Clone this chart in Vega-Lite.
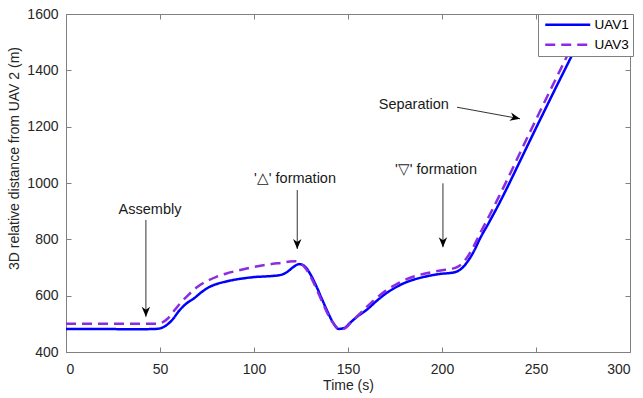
{
  "$schema": "https://vega.github.io/schema/vega-lite/v6.json",
  "width": 564,
  "height": 338,
  "autosize": "none",
  "padding": {"left": 66, "top": 14, "right": 13, "bottom": 46},
  "background": "white",
  "config": {
    "font": "Liberation Sans",
    "view": {"stroke": null},
    "axis": {
      "domainColor": "#808080",
      "domainWidth": 1,
      "tickColor": "#808080",
      "tickSize": -5,
      "labelColor": "#262626",
      "labelFontSize": 14,
      "titleFontSize": 14,
      "titleFontWeight": "normal",
      "titleColor": "#262626",
      "grid": false
    }
  },
  "datasets": {
    "lines": [
      {"series": "UAV1", "t": 0, "v": 482},
      {"series": "UAV1", "t": 10, "v": 482},
      {"series": "UAV1", "t": 20, "v": 482},
      {"series": "UAV1", "t": 30, "v": 481},
      {"series": "UAV1", "t": 40, "v": 481},
      {"series": "UAV1", "t": 48, "v": 482},
      {"series": "UAV1", "t": 51, "v": 486},
      {"series": "UAV1", "t": 54, "v": 498},
      {"series": "UAV1", "t": 57, "v": 518},
      {"series": "UAV1", "t": 60, "v": 545},
      {"series": "UAV1", "t": 64, "v": 572},
      {"series": "UAV1", "t": 68, "v": 590},
      {"series": "UAV1", "t": 72, "v": 612},
      {"series": "UAV1", "t": 76, "v": 630},
      {"series": "UAV1", "t": 80, "v": 641},
      {"series": "UAV1", "t": 85, "v": 650},
      {"series": "UAV1", "t": 90, "v": 657},
      {"series": "UAV1", "t": 95, "v": 662},
      {"series": "UAV1", "t": 100, "v": 666},
      {"series": "UAV1", "t": 105, "v": 668},
      {"series": "UAV1", "t": 110, "v": 670},
      {"series": "UAV1", "t": 115, "v": 675},
      {"series": "UAV1", "t": 118, "v": 686},
      {"series": "UAV1", "t": 121, "v": 702},
      {"series": "UAV1", "t": 124, "v": 712},
      {"series": "UAV1", "t": 127, "v": 704},
      {"series": "UAV1", "t": 130, "v": 676},
      {"series": "UAV1", "t": 133, "v": 636},
      {"series": "UAV1", "t": 136, "v": 590},
      {"series": "UAV1", "t": 139, "v": 545},
      {"series": "UAV1", "t": 142, "v": 505},
      {"series": "UAV1", "t": 145, "v": 482},
      {"series": "UAV1", "t": 148, "v": 485},
      {"series": "UAV1", "t": 151, "v": 503},
      {"series": "UAV1", "t": 155, "v": 526},
      {"series": "UAV1", "t": 160, "v": 550},
      {"series": "UAV1", "t": 165, "v": 580},
      {"series": "UAV1", "t": 170, "v": 607},
      {"series": "UAV1", "t": 175, "v": 628},
      {"series": "UAV1", "t": 180, "v": 645},
      {"series": "UAV1", "t": 185, "v": 657},
      {"series": "UAV1", "t": 190, "v": 666},
      {"series": "UAV1", "t": 195, "v": 673},
      {"series": "UAV1", "t": 200, "v": 678},
      {"series": "UAV1", "t": 205, "v": 681},
      {"series": "UAV1", "t": 208, "v": 686},
      {"series": "UAV1", "t": 211, "v": 700},
      {"series": "UAV1", "t": 214, "v": 725},
      {"series": "UAV1", "t": 217, "v": 758},
      {"series": "UAV1", "t": 220, "v": 800},
      {"series": "UAV1", "t": 225, "v": 860},
      {"series": "UAV1", "t": 230, "v": 922},
      {"series": "UAV1", "t": 235, "v": 988},
      {"series": "UAV1", "t": 240, "v": 1057},
      {"series": "UAV1", "t": 245, "v": 1126},
      {"series": "UAV1", "t": 250, "v": 1195},
      {"series": "UAV1", "t": 255, "v": 1263},
      {"series": "UAV1", "t": 260, "v": 1331},
      {"series": "UAV1", "t": 265, "v": 1398},
      {"series": "UAV1", "t": 270, "v": 1465},
      {"series": "UAV1", "t": 275, "v": 1532},
      {"series": "UAV1", "t": 280, "v": 1600},
      {"series": "UAV1", "t": 285, "v": 1667},
      {"series": "UAV3", "t": 0, "v": 500},
      {"series": "UAV3", "t": 10, "v": 500},
      {"series": "UAV3", "t": 20, "v": 500},
      {"series": "UAV3", "t": 30, "v": 500},
      {"series": "UAV3", "t": 40, "v": 500},
      {"series": "UAV3", "t": 48, "v": 500},
      {"series": "UAV3", "t": 51, "v": 504},
      {"series": "UAV3", "t": 54, "v": 518},
      {"series": "UAV3", "t": 57, "v": 542},
      {"series": "UAV3", "t": 60, "v": 567},
      {"series": "UAV3", "t": 65, "v": 602},
      {"series": "UAV3", "t": 70, "v": 632},
      {"series": "UAV3", "t": 75, "v": 652},
      {"series": "UAV3", "t": 80, "v": 667},
      {"series": "UAV3", "t": 85, "v": 678},
      {"series": "UAV3", "t": 90, "v": 687},
      {"series": "UAV3", "t": 95, "v": 695},
      {"series": "UAV3", "t": 100, "v": 702},
      {"series": "UAV3", "t": 105, "v": 708},
      {"series": "UAV3", "t": 110, "v": 713},
      {"series": "UAV3", "t": 115, "v": 717},
      {"series": "UAV3", "t": 119, "v": 721},
      {"series": "UAV3", "t": 122, "v": 722},
      {"series": "UAV3", "t": 125, "v": 714},
      {"series": "UAV3", "t": 128, "v": 692},
      {"series": "UAV3", "t": 131, "v": 656},
      {"series": "UAV3", "t": 134, "v": 612},
      {"series": "UAV3", "t": 137, "v": 567},
      {"series": "UAV3", "t": 140, "v": 525},
      {"series": "UAV3", "t": 143, "v": 495},
      {"series": "UAV3", "t": 146, "v": 479},
      {"series": "UAV3", "t": 149, "v": 487},
      {"series": "UAV3", "t": 152, "v": 508},
      {"series": "UAV3", "t": 156, "v": 534},
      {"series": "UAV3", "t": 160, "v": 560},
      {"series": "UAV3", "t": 165, "v": 591},
      {"series": "UAV3", "t": 170, "v": 617},
      {"series": "UAV3", "t": 175, "v": 638},
      {"series": "UAV3", "t": 180, "v": 655},
      {"series": "UAV3", "t": 185, "v": 668},
      {"series": "UAV3", "t": 190, "v": 677},
      {"series": "UAV3", "t": 195, "v": 684},
      {"series": "UAV3", "t": 200, "v": 690},
      {"series": "UAV3", "t": 205, "v": 695},
      {"series": "UAV3", "t": 208, "v": 701},
      {"series": "UAV3", "t": 211, "v": 716},
      {"series": "UAV3", "t": 214, "v": 742},
      {"series": "UAV3", "t": 217, "v": 777},
      {"series": "UAV3", "t": 220, "v": 818},
      {"series": "UAV3", "t": 225, "v": 882},
      {"series": "UAV3", "t": 230, "v": 948},
      {"series": "UAV3", "t": 235, "v": 1016},
      {"series": "UAV3", "t": 240, "v": 1086},
      {"series": "UAV3", "t": 245, "v": 1156},
      {"series": "UAV3", "t": 250, "v": 1225},
      {"series": "UAV3", "t": 255, "v": 1294},
      {"series": "UAV3", "t": 260, "v": 1362},
      {"series": "UAV3", "t": 265, "v": 1430},
      {"series": "UAV3", "t": 270, "v": 1498},
      {"series": "UAV3", "t": 275, "v": 1566},
      {"series": "UAV3", "t": 280, "v": 1634}
    ],
    "labels": [
      {"text": "Assembly", "t": 44.7, "v": 904},
      {"text": "'△' formation", "t": 121.8, "v": 1015},
      {"text": "'▽' formation", "t": 196.8, "v": 1047},
      {"text": "Separation", "t": 185, "v": 1277}
    ],
    "arrows": [
      {"name": "Assembly", "t1": 42.5, "v1": 869, "t2": 42.5, "v2": 525},
      {"name": "tri_up", "t1": 123, "v1": 975, "t2": 123, "v2": 766},
      {"name": "tri_down", "t1": 200.5, "v1": 999, "t2": 200.5, "v2": 772},
      {"name": "Separation", "t1": 208, "v1": 1269, "t2": 241.5, "v2": 1228}
    ]
  },
  "resolve": {"axis": {"x": "independent", "y": "independent"}},
  "layer": [
    {
      "data": {"name": "lines"},
      "mark": {"type": "line", "strokeWidth": 2.5, "clip": true, "interpolate": "monotone"},
      "encoding": {
        "x": {
          "field": "t", "type": "quantitative",
          "scale": {"domain": [0, 300], "nice": false},
          "axis": {"values": [0, 50, 100, 150, 200, 250, 300], "title": "Time (s)", "labelPadding": 15, "titleY": 26, "titleBaseline": "top"}
        },
        "y": {
          "field": "v", "type": "quantitative",
          "scale": {"domain": [400, 1600], "nice": false, "zero": false},
          "axis": {"values": [400, 600, 800, 1000, 1200, 1400, 1600], "format": "d", "title": "3D relative distance from UAV 2 (m)", "labelPadding": 13, "titleX": -52, "titleY": 144, "titleBaseline": "middle"}
        },
        "color": {
          "field": "series", "type": "nominal",
          "scale": {"domain": ["UAV1", "UAV3"], "range": ["#0000ff", "#8b2be2"]},
          "legend": {"title": null, "orient": "none", "legendX": 472, "legendY": 0, "symbolType": "M-4.5,0 L4.5,0", "symbolSize": 100, "symbolOffset": 19, "labelOffset": 20, "symbolStrokeWidth": 2.5, "labelFontSize": 13.5, "labelColor": "#000000", "strokeColor": "#808080", "fillColor": "white", "padding": 4, "rowPadding": 5, "zindex": 1}
        },
        "strokeDash": {
          "field": "series", "type": "nominal",
          "scale": {"domain": ["UAV1", "UAV3"], "range": [[1, 0], [10, 6]]},
          "legend": {"title": null, "orient": "none", "legendX": 472, "legendY": 0, "symbolType": "M-4.5,0 L4.5,0", "symbolSize": 100, "symbolOffset": 19, "labelOffset": 20, "symbolStrokeWidth": 2.5, "labelFontSize": 13.5, "labelColor": "#000000", "strokeColor": "#808080", "fillColor": "white", "padding": 4, "rowPadding": 5, "zindex": 1}
        }
      }
    },
    {
      "data": {"name": "arrows"},
      "mark": {"type": "rule", "color": "#333333", "strokeWidth": 1},
      "encoding": {
        "x": {"field": "t1", "type": "quantitative", "axis": null},
        "y": {"field": "v1", "type": "quantitative", "axis": null},
        "x2": {"field": "t2"},
        "y2": {"field": "v2"}
      }
    },
    {
      "data": {"name": "arrows"},
      "transform": [{"filter": "datum.name != 'Separation'"}],
      "mark": {"type": "point", "shape": "M0,0 L-0.42,-1 L0,-0.7 L0.42,-1 Z", "size": 400, "filled": true, "color": "#000000", "opacity": 1},
      "encoding": {
        "x": {"field": "t2", "type": "quantitative", "axis": null},
        "y": {"field": "v2", "type": "quantitative", "axis": null}
      }
    },
    {
      "data": {"name": "arrows"},
      "transform": [{"filter": "datum.name == 'Separation'"}],
      "mark": {"type": "point", "shape": "M0,0 L-0.42,-1 L0,-0.7 L0.42,-1 Z", "size": 400, "filled": true, "color": "#000000", "opacity": 1, "angle": 282},
      "encoding": {
        "x": {"field": "t2", "type": "quantitative", "axis": null},
        "y": {"field": "v2", "type": "quantitative", "axis": null}
      }
    },
    {
      "data": {"name": "labels"},
      "mark": {"type": "text", "fontSize": 14.5, "color": "#1a1a1a", "align": "center", "baseline": "middle"},
      "encoding": {
        "x": {"field": "t", "type": "quantitative", "axis": {"orient": "top", "values": [0, 50, 100, 150, 200, 250, 300], "labels": false, "title": null}},
        "y": {"field": "v", "type": "quantitative", "axis": {"orient": "right", "values": [400, 600, 800, 1000, 1200, 1400, 1600], "labels": false, "title": null}},
        "text": {"field": "text"}
      }
    }
  ]
}
